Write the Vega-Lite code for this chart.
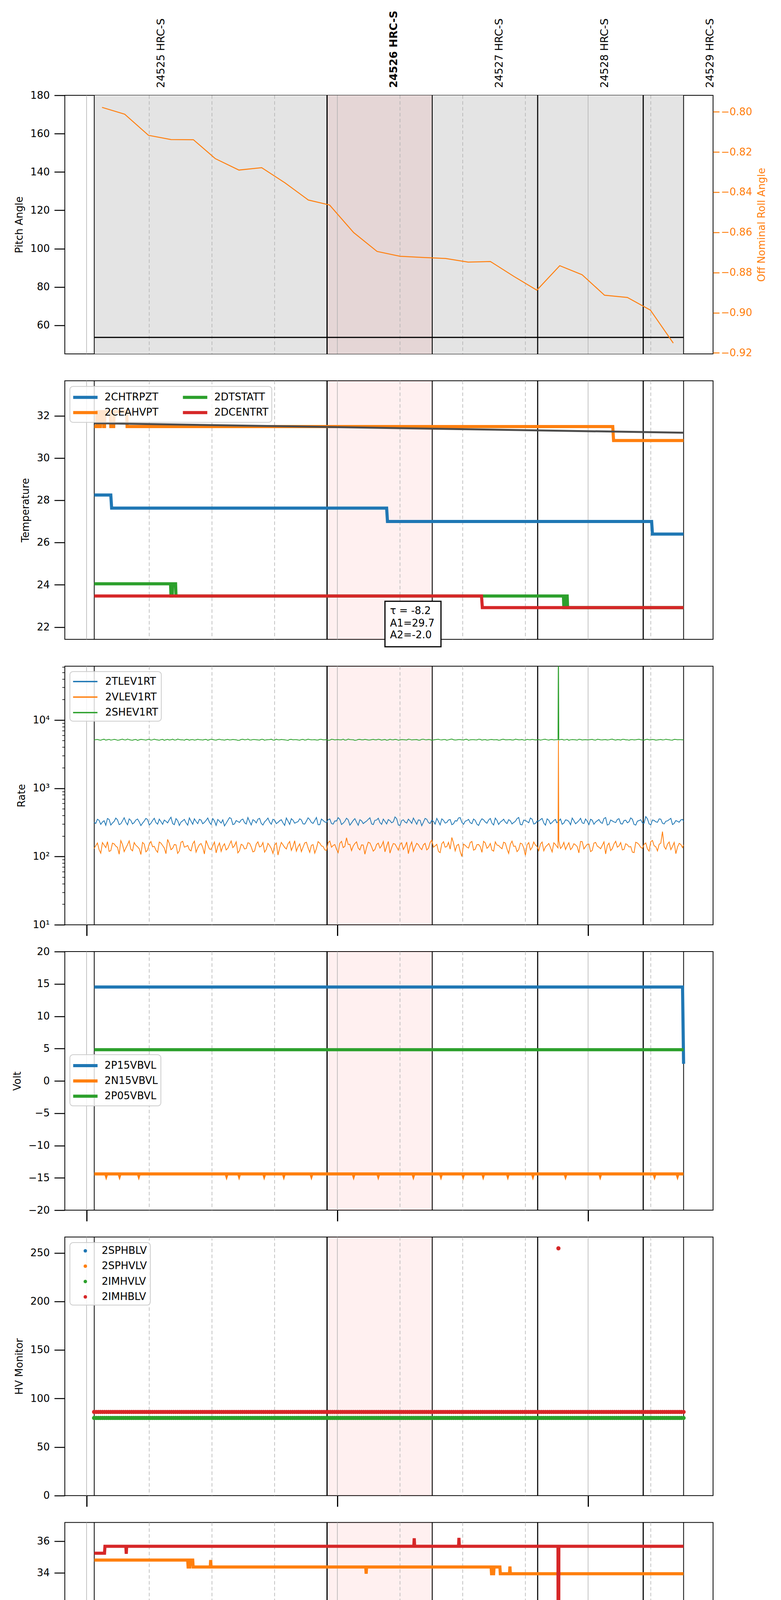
{
"$schema": "https://vega.github.io/schema/vega-lite/v6.json",
"padding": {"left": 30, "top": 26, "right": 0, "bottom": 0},
"bounds": "flush",
"spacing": 68.7,
"datasets": {
 "obs": [
  {"obsid": "24525 HRC-S", "start": 1.84, "stop": 57.5, "lab": 17.9, "cur": false},
  {"obsid": "24526 HRC-S", "start": 57.59, "stop": 82.71, "lab": 73.6, "cur": true},
  {"obsid": "24527 HRC-S", "start": 82.71, "stop": 107.9, "lab": 98.8, "cur": false},
  {"obsid": "24528 HRC-S", "start": 107.97, "stop": 133.15, "lab": 124.0, "cur": false},
  {"obsid": "24529 HRC-S", "start": 133.23, "stop": 142.85, "lab": 149.2, "cur": false}
 ],
 "major": [{"m": 0}, {"m": 60}, {"m": 120}],
 "minor": [{"m": 15}, {"m": 30}, {"m": 45}, {"m": 75}, {"m": 90}, {"m": 105}, {"m": 135}],
 "pitch": [{"m": 1.84, "p": 53.7}, {"m": 142.85, "p": 53.7}],
 "roll": [
  {"m":3.71,"r":-0.7978},{"m":9.12,"r":-0.8012},{"m":14.82,"r":-0.8117},{"m":20.19,"r":-0.8138},{"m":25.56,"r":-0.8139},{"m":30.79,"r":-0.8233},{"m":36.46,"r":-0.829},{"m":41.9,"r":-0.8278},{"m":47.5,"r":-0.8354},{"m":53.06,"r":-0.8439},{"m":58.15,"r":-0.8464},{"m":63.9,"r":-0.8601},{"m":69.51,"r":-0.8695},{"m":74.96,"r":-0.8719},{"m":80.34,"r":-0.8725},{"m":85.94,"r":-0.873},{"m":91.3,"r":-0.8748},{"m":96.63,"r":-0.8745},{"m":102.23,"r":-0.8819},{"m":107.74,"r":-0.8888},{"m":113.22,"r":-0.8766},{"m":118.57,"r":-0.8811},{"m":123.94,"r":-0.8913},{"m":129.4,"r":-0.8924},{"m":134.91,"r":-0.8987},{"m":140.38,"r":-0.9151}
 ],
 "temp": [
  {"s":"2CHTRPZT","m":1.84,"v":28.25},{"s":"2CHTRPZT","m":5.8,"v":28.25},{"s":"2CHTRPZT","m":6.0,"v":27.63},{"s":"2CHTRPZT","m":71.8,"v":27.63},{"s":"2CHTRPZT","m":72.0,"v":27.0},{"s":"2CHTRPZT","m":135.2,"v":27.0},{"s":"2CHTRPZT","m":135.4,"v":26.4},{"s":"2CHTRPZT","m":142.85,"v":26.4},
  {"s":"2CEAHVPT","m":1.84,"v":31.49},{"s":"2CEAHVPT","m":2.4,"v":31.49},{"s":"2CEAHVPT","m":2.5,"v":32.2},{"s":"2CEAHVPT","m":3.0,"v":32.2},{"s":"2CEAHVPT","m":3.1,"v":31.49},{"s":"2CEAHVPT","m":3.3,"v":31.49},{"s":"2CEAHVPT","m":3.4,"v":32.2},{"s":"2CEAHVPT","m":4.0,"v":32.2},{"s":"2CEAHVPT","m":4.1,"v":31.49},{"s":"2CEAHVPT","m":4.3,"v":31.49},{"s":"2CEAHVPT","m":4.4,"v":32.2},{"s":"2CEAHVPT","m":5.7,"v":32.2},{"s":"2CEAHVPT","m":5.8,"v":31.49},{"s":"2CEAHVPT","m":6.5,"v":31.49},{"s":"2CEAHVPT","m":6.6,"v":32.2},{"s":"2CEAHVPT","m":9.6,"v":32.2},{"s":"2CEAHVPT","m":9.7,"v":31.49},{"s":"2CEAHVPT","m":125.9,"v":31.49},{"s":"2CEAHVPT","m":126.1,"v":30.83},{"s":"2CEAHVPT","m":142.85,"v":30.83},
  {"s":"2DTSTATT","m":1.84,"v":24.05},{"s":"2DTSTATT","m":20.1,"v":24.05},{"s":"2DTSTATT","m":20.2,"v":23.47},{"s":"2DTSTATT","m":20.5,"v":23.47},{"s":"2DTSTATT","m":20.6,"v":24.05},{"s":"2DTSTATT","m":21.3,"v":24.05},{"s":"2DTSTATT","m":21.4,"v":23.47},{"s":"2DTSTATT","m":114.1,"v":23.47},{"s":"2DTSTATT","m":114.2,"v":22.92},{"s":"2DTSTATT","m":114.5,"v":22.92},{"s":"2DTSTATT","m":114.6,"v":23.47},{"s":"2DTSTATT","m":115.0,"v":23.47},{"s":"2DTSTATT","m":115.1,"v":22.92},{"s":"2DTSTATT","m":142.85,"v":22.92},
  {"s":"2DCENTRT","m":1.84,"v":23.47},{"s":"2DCENTRT","m":94.5,"v":23.47},{"s":"2DCENTRT","m":94.7,"v":22.92},{"s":"2DCENTRT","m":142.85,"v":22.92}
 ],
 "fit": [{"m": 1.84, "v": 31.65}, {"m": 142.85, "v": 31.2}],
 "fitbox": [{"m": 71.4, "m2": 84.8, "v": 23.22, "v2": 21.07}],
 "fittext": [{"m": 72.6, "v": 22.77, "t": "τ = -8.2"}, {"m": 72.6, "v": 22.18, "t": "A1=29.7"}, {"m": 72.6, "v": 21.61, "t": "A2=-2.0"}],
 "rate": [
  {"m":1.8,"T":318,"V":131,"S":5110},{"m":2.2,"T":305,"V":144,"S":5150},{"m":2.6,"T":352,"V":158,"S":5190},{"m":3.0,"T":339,"V":126,"S":5100},{"m":3.4,"T":296,"V":112,"S":5060},{"m":3.8,"T":321,"V":160,"S":5180},{"m":4.2,"T":334,"V":147,"S":5230},{"m":4.6,"T":287,"V":135,"S":5070},{"m":5.0,"T":361,"V":165,"S":5140},{"m":5.4,"T":349,"V":119,"S":5210},
  {"m":5.8,"T":289,"V":122,"S":5080},{"m":6.2,"T":310,"V":157,"S":5130},{"m":6.6,"T":327,"V":153,"S":5200},{"m":7.0,"T":366,"V":142,"S":5160},{"m":7.4,"T":345,"V":136,"S":5050},{"m":7.8,"T":293,"V":108,"S":5090},{"m":8.2,"T":302,"V":171,"S":5170},{"m":8.6,"T":332,"V":150,"S":5240},{"m":9.0,"T":370,"V":118,"S":5120},{"m":9.4,"T":319,"V":133,"S":5110},
  {"m":9.8,"T":291,"V":149,"S":5260},{"m":10.2,"T":356,"V":169,"S":5150},{"m":10.6,"T":338,"V":128,"S":5090},{"m":11.0,"T":300,"V":121,"S":5060},{"m":11.4,"T":314,"V":160,"S":5150},{"m":11.8,"T":343,"V":146,"S":5190},{"m":12.2,"T":355,"V":139,"S":5030},{"m":12.6,"T":322,"V":130,"S":5120},{"m":13.0,"T":284,"V":107,"S":5210},{"m":13.4,"T":309,"V":161,"S":5170},
  {"m":13.8,"T":331,"V":152,"S":5130},{"m":14.2,"T":362,"V":117,"S":5080},{"m":14.6,"T":348,"V":124,"S":5180},{"m":15.0,"T":290,"V":152,"S":5220},{"m":15.4,"T":307,"V":166,"S":5070},{"m":15.8,"T":337,"V":139,"S":5130},{"m":16.2,"T":363,"V":141,"S":5240},{"m":16.6,"T":315,"V":124,"S":5160},{"m":17.0,"T":298,"V":115,"S":5110},{"m":17.4,"T":353,"V":163,"S":5050},
  {"m":17.8,"T":325,"V":157,"S":5160},{"m":18.2,"T":296,"V":145,"S":5200},{"m":18.6,"T":342,"V":133,"S":5040},{"m":19.0,"T":328,"V":110,"S":5140},{"m":19.4,"T":311,"V":178,"S":5200},{"m":19.8,"T":347,"V":155,"S":5090},{"m":20.2,"T":376,"V":126,"S":5140},{"m":20.6,"T":304,"V":132,"S":5230},{"m":21.0,"T":293,"V":150,"S":5090},{"m":21.4,"T":359,"V":148,"S":5110},
  {"m":21.8,"T":336,"V":111,"S":5250},{"m":22.2,"T":285,"V":121,"S":5170},{"m":22.6,"T":319,"V":162,"S":5120},{"m":23.0,"T":333,"V":167,"S":5130},{"m":23.4,"T":350,"V":137,"S":5060},{"m":23.8,"T":312,"V":140,"S":5200},{"m":24.2,"T":288,"V":145,"S":5190},{"m":24.6,"T":368,"V":126,"S":5060},{"m":25.0,"T":329,"V":121,"S":5150},{"m":25.4,"T":297,"V":153,"S":5180},
  {"m":25.8,"T":357,"V":168,"S":5080},{"m":26.2,"T":326,"V":116,"S":5120},{"m":26.6,"T":303,"V":134,"S":5220},{"m":27.0,"T":351,"V":149,"S":5150},{"m":27.4,"T":341,"V":155,"S":5130},{"m":27.8,"T":302,"V":136,"S":5090},{"m":28.2,"T":316,"V":109,"S":5170},{"m":28.6,"T":339,"V":172,"S":5210},{"m":29.0,"T":367,"V":148,"S":5050},{"m":29.4,"T":318,"V":129,"S":5140},
  {"m":29.8,"T":295,"V":127,"S":5230},{"m":30.2,"T":360,"V":144,"S":5170},{"m":30.6,"T":333,"V":163,"S":5100},{"m":31.0,"T":286,"V":113,"S":5080},{"m":31.4,"T":349,"V":140,"S":5180},{"m":31.8,"T":330,"V":158,"S":5230},{"m":32.2,"T":309,"V":119,"S":5140},{"m":32.6,"T":345,"V":141,"S":5120},{"m":33.0,"T":281,"V":154,"S":5070},{"m":33.4,"T":307,"V":125,"S":5160},
  {"m":33.8,"T":338,"V":132,"S":5210},{"m":34.2,"T":371,"V":150,"S":5100},{"m":34.6,"T":360,"V":169,"S":5120},{"m":35.0,"T":294,"V":135,"S":5190},{"m":35.4,"T":300,"V":144,"S":5160},{"m":35.8,"T":336,"V":164,"S":5130},{"m":36.2,"T":326,"V":113,"S":5040},{"m":36.6,"T":316,"V":122,"S":5060},{"m":37.0,"T":344,"V":151,"S":5190},{"m":37.4,"T":354,"V":146,"S":5220},
  {"m":37.8,"T":313,"V":129,"S":5130},{"m":38.2,"T":299,"V":131,"S":5150},{"m":38.6,"T":373,"V":159,"S":5250},{"m":39.0,"T":327,"V":156,"S":5110},{"m":39.4,"T":290,"V":138,"S":5090},{"m":39.8,"T":346,"V":117,"S":5180},{"m":40.2,"T":335,"V":120,"S":5170},{"m":40.6,"T":310,"V":152,"S":5140},{"m":41.0,"T":352,"V":164,"S":5110},{"m":41.4,"T":363,"V":138,"S":5070},
  {"m":41.8,"T":305,"V":142,"S":5200},{"m":42.2,"T":289,"V":160,"S":5200},{"m":42.6,"T":322,"V":116,"S":5060},{"m":43.0,"T":341,"V":127,"S":5130},{"m":43.4,"T":366,"V":156,"S":5150},{"m":43.8,"T":320,"V":145,"S":5170},{"m":44.2,"T":297,"V":131,"S":5230},{"m":44.6,"T":352,"V":111,"S":5090},{"m":45.0,"T":339,"V":147,"S":5080},{"m":45.4,"T":303,"V":158,"S":5240},
  {"m":45.8,"T":317,"V":105,"S":5140},{"m":46.2,"T":334,"V":134,"S":5120},{"m":46.6,"T":346,"V":161,"S":5190},{"m":47.0,"T":311,"V":148,"S":5160},{"m":47.4,"T":286,"V":136,"S":5120},{"m":47.8,"T":367,"V":129,"S":5080},{"m":48.2,"T":330,"V":153,"S":5030},{"m":48.6,"T":295,"V":166,"S":5190},{"m":49.0,"T":358,"V":123,"S":5210},{"m":49.4,"T":340,"V":141,"S":5130},
  {"m":49.8,"T":308,"V":170,"S":5150},{"m":50.2,"T":317,"V":120,"S":5150},{"m":50.6,"T":324,"V":139,"S":5100},{"m":51.0,"T":357,"V":153,"S":5060},{"m":51.4,"T":343,"V":118,"S":5180},{"m":51.8,"T":301,"V":137,"S":5210},{"m":52.2,"T":299,"V":158,"S":5070},{"m":52.6,"T":329,"V":162,"S":5120},{"m":53.0,"T":369,"V":134,"S":5240},{"m":53.4,"T":348,"V":115,"S":5170},
  {"m":53.8,"T":315,"V":146,"S":5130},{"m":54.2,"T":306,"V":149,"S":5140},{"m":54.6,"T":337,"V":112,"S":5160},{"m":55.0,"T":373,"V":131,"S":5090},{"m":55.4,"T":292,"V":165,"S":5090},{"m":55.8,"T":292,"V":157,"S":5200},{"m":56.2,"T":354,"V":143,"S":5200},{"m":56.6,"T":338,"V":140,"S":5130},{"m":57.0,"T":321,"V":125,"S":5140},{"m":57.4,"T":314,"V":123,"S":5160},
  {"m":57.8,"T":347,"V":160,"S":5060},{"m":58.2,"T":355,"V":168,"S":5070},{"m":58.6,"T":304,"V":137,"S":5220},{"m":59.0,"T":298,"V":145,"S":5190},{"m":59.4,"T":332,"V":150,"S":5110},{"m":59.8,"T":331,"V":128,"S":5150},{"m":60.2,"T":371,"V":114,"S":5170},{"m":60.6,"T":350,"V":156,"S":5120},{"m":61.0,"T":294,"V":167,"S":5130},{"m":61.4,"T":308,"V":135,"S":5230},
  {"m":61.8,"T":328,"V":141,"S":5080},{"m":62.2,"T":364,"V":188,"S":5100},{"m":62.6,"T":345,"V":150,"S":5250},{"m":63.0,"T":288,"V":151,"S":5170},{"m":63.4,"T":310,"V":122,"S":5150},{"m":63.8,"T":337,"V":142,"S":5140},{"m":64.2,"T":359,"V":155,"S":5040},{"m":64.6,"T":319,"V":164,"S":5080},{"m":65.0,"T":287,"V":133,"S":5190},{"m":65.4,"T":346,"V":125,"S":5210},
  {"m":65.8,"T":334,"V":148,"S":5120},{"m":66.2,"T":303,"V":147,"S":5130},{"m":66.6,"T":318,"V":108,"S":5210},{"m":67.0,"T":330,"V":136,"S":5160},{"m":67.4,"T":351,"V":162,"S":5090},{"m":67.8,"T":369,"V":158,"S":5090},{"m":68.2,"T":301,"V":139,"S":5160},{"m":68.6,"T":294,"V":120,"S":5200},{"m":69.0,"T":340,"V":127,"S":5130},{"m":69.4,"T":342,"V":150,"S":5120},
  {"m":69.8,"T":364,"V":157,"S":5230},{"m":70.2,"T":315,"V":133,"S":5170},{"m":70.6,"T":296,"V":144,"S":5070},{"m":71.0,"T":353,"V":166,"S":5140},{"m":71.4,"T":327,"V":117,"S":5180},{"m":71.8,"T":300,"V":141,"S":5060},{"m":72.2,"T":348,"V":166,"S":5110},{"m":72.6,"T":335,"V":112,"S":5220},{"m":73.0,"T":312,"V":135,"S":5140},{"m":73.4,"T":323,"V":155,"S":5130},
  {"m":73.8,"T":380,"V":152,"S":5200},{"m":74.2,"T":358,"V":138,"S":5180},{"m":74.6,"T":290,"V":124,"S":5050},{"m":75.0,"T":286,"V":150,"S":5110},{"m":75.4,"T":336,"V":159,"S":5170},{"m":75.8,"T":345,"V":127,"S":5150},{"m":76.2,"T":320,"V":140,"S":5120},{"m":76.6,"T":309,"V":163,"S":5090},{"m":77.0,"T":353,"V":110,"S":5240},{"m":77.4,"T":332,"V":142,"S":5200},
  {"m":77.8,"T":306,"V":163,"S":5100},{"m":78.2,"T":366,"V":119,"S":5140},{"m":78.6,"T":331,"V":138,"S":5160},{"m":79.0,"T":297,"V":156,"S":5170},{"m":79.4,"T":344,"V":149,"S":5080},{"m":79.8,"T":340,"V":134,"S":5080},{"m":80.2,"T":283,"V":126,"S":5210},{"m":80.6,"T":318,"V":148,"S":5230},{"m":81.0,"T":362,"V":156,"S":5140},{"m":81.4,"T":351,"V":125,"S":5120},
  {"m":81.8,"T":314,"V":132,"S":5190},{"m":82.2,"T":305,"V":160,"S":5160},{"m":82.6,"T":339,"V":173,"S":5060},{"m":83.0,"T":327,"V":137,"S":5100},{"m":83.4,"T":298,"V":143,"S":5150},{"m":83.8,"T":362,"V":151,"S":5190},{"m":84.2,"T":326,"V":119,"S":5220},{"m":84.6,"T":291,"V":114,"S":5130},{"m":85.0,"T":356,"V":154,"S":5110},{"m":85.4,"T":339,"V":165,"S":5170},
  {"m":85.8,"T":309,"V":137,"S":5170},{"m":86.2,"T":316,"V":140,"S":5060},{"m":86.6,"T":343,"V":161,"S":5130},{"m":87.0,"T":348,"V":128,"S":5210},{"m":87.4,"T":292,"V":190,"S":5250},{"m":87.8,"T":302,"V":158,"S":5140},{"m":88.2,"T":335,"V":121,"S":5090},{"m":88.6,"T":330,"V":145,"S":5120},{"m":89.0,"T":368,"V":151,"S":5180},{"m":89.4,"T":371,"V":118,"S":5180},
  {"m":89.8,"T":317,"V":100,"S":5120},{"m":90.2,"T":296,"V":152,"S":5090},{"m":90.6,"T":329,"V":146,"S":5200},{"m":91.0,"T":336,"V":137,"S":5230},{"m":91.4,"T":350,"V":133,"S":5040},{"m":91.8,"T":313,"V":160,"S":5130},{"m":92.2,"T":303,"V":166,"S":5160},{"m":92.6,"T":354,"V":124,"S":5160},{"m":93.0,"T":338,"V":128,"S":5130},{"m":93.4,"T":299,"V":149,"S":5110},
  {"m":93.8,"T":285,"V":150,"S":5230},{"m":94.2,"T":327,"V":139,"S":5200},{"m":94.6,"T":357,"V":115,"S":5080},{"m":95.0,"T":345,"V":167,"S":5140},{"m":95.4,"T":321,"V":158,"S":5170},{"m":95.8,"T":307,"V":132,"S":5070},{"m":96.2,"T":342,"V":139,"S":5110},{"m":96.6,"T":361,"V":155,"S":5180},{"m":97.0,"T":308,"V":124,"S":5190},{"m":97.4,"T":290,"V":120,"S":5120},
  {"m":97.8,"T":365,"V":164,"S":5140},{"m":98.2,"T":338,"V":147,"S":5160},{"m":98.6,"T":295,"V":145,"S":5060},{"m":99.0,"T":320,"V":136,"S":5090},{"m":99.4,"T":333,"V":130,"S":5210},{"m":99.8,"T":352,"V":162,"S":5220},{"m":100.2,"T":319,"V":157,"S":5120},{"m":100.6,"T":304,"V":129,"S":5130},{"m":101.0,"T":347,"V":111,"S":5160},{"m":101.4,"T":333,"V":151,"S":5170},
  {"m":101.8,"T":300,"V":168,"S":5090},{"m":102.2,"T":315,"V":141,"S":5100},{"m":102.6,"T":328,"V":142,"S":5240},{"m":103.0,"T":359,"V":118,"S":5190},{"m":103.4,"T":374,"V":126,"S":5130},{"m":103.8,"T":294,"V":157,"S":5140},{"m":104.2,"T":291,"V":153,"S":5180},{"m":104.6,"T":342,"V":134,"S":5080},{"m":105.0,"T":337,"V":104,"S":5070},{"m":105.4,"T":325,"V":148,"S":5210},
  {"m":105.8,"T":313,"V":160,"S":5150},{"m":106.2,"T":367,"V":125,"S":5120},{"m":106.6,"T":352,"V":136,"S":5200},{"m":107.0,"T":299,"V":163,"S":5160},{"m":107.4,"T":305,"V":147,"S":5110},{"m":107.8,"T":331,"V":140,"S":5140},{"m":108.2,"T":330,"V":122,"S":5170},{"m":108.6,"T":348,"V":152,"S":5070},{"m":109.0,"T":361,"V":163,"S":5130},{"m":109.4,"T":310,"V":121,"S":5200},
  {"m":109.8,"T":288,"V":138,"S":5220},{"m":110.2,"T":356,"V":146,"S":5130},{"m":110.6,"T":340,"V":155,"S":5080},{"m":111.0,"T":301,"V":135,"S":5170},{"m":111.4,"T":316,"V":117,"S":5190},{"m":111.8,"T":337,"V":159,"S":5110},{"m":112.2,"T":349,"V":150,"S":5140},{"m":112.5,"T":312,"V":141,"S":5150},{"m":112.8,"T":323,"V":134,"S":5160},{"m":112.9,"T":318,"V":5000,"S":200000},
  {"m":113.0,"T":331,"V":170,"S":5110},{"m":113.4,"T":355,"V":131,"S":5180},{"m":113.8,"T":297,"V":141,"S":5200},{"m":114.2,"T":309,"V":161,"S":5090},{"m":114.6,"T":344,"V":127,"S":5130},{"m":115.0,"T":341,"V":144,"S":5220},{"m":115.4,"T":326,"V":159,"S":5050},{"m":115.8,"T":292,"V":126,"S":5130},{"m":116.2,"T":366,"V":135,"S":5180},{"m":116.6,"T":335,"V":154,"S":5160},
  {"m":117.0,"T":302,"V":148,"S":5120},{"m":117.4,"T":318,"V":139,"S":5070},{"m":117.8,"T":335,"V":113,"S":5230},{"m":118.2,"T":363,"V":166,"S":5190},{"m":118.6,"T":311,"V":165,"S":5090},{"m":119.0,"T":304,"V":129,"S":5140},{"m":119.4,"T":355,"V":140,"S":5160},{"m":119.8,"T":328,"V":151,"S":5120},{"m":120.2,"T":293,"V":152,"S":5140},{"m":120.6,"T":351,"V":118,"S":5180},
  {"m":121.0,"T":339,"V":123,"S":5210},{"m":121.4,"T":297,"V":157,"S":5100},{"m":121.8,"T":320,"V":161,"S":5070},{"m":122.2,"T":334,"V":142,"S":5230},{"m":122.6,"T":348,"V":137,"S":5190},{"m":123.0,"T":316,"V":130,"S":5130},{"m":123.4,"T":306,"V":146,"S":5110},{"m":123.8,"T":360,"V":164,"S":5160},{"m":124.2,"T":372,"V":109,"S":5170},{"m":124.6,"T":289,"V":145,"S":5090},
  {"m":125.0,"T":296,"V":157,"S":5130},{"m":125.4,"T":343,"V":122,"S":5200},{"m":125.8,"T":332,"V":131,"S":5240},{"m":126.2,"T":321,"V":153,"S":5140},{"m":126.6,"T":314,"V":167,"S":5080},{"m":127.0,"T":349,"V":137,"S":5170},{"m":127.4,"T":358,"V":143,"S":5150},{"m":127.8,"T":303,"V":160,"S":5080},{"m":128.2,"T":299,"V":125,"S":5200},{"m":128.6,"T":336,"V":127,"S":5210},
  {"m":129.0,"T":341,"V":154,"S":5120},{"m":129.4,"T":312,"V":149,"S":5130},{"m":129.8,"T":324,"V":138,"S":5060},{"m":130.2,"T":368,"V":140,"S":5150},{"m":130.6,"T":351,"V":116,"S":5180},{"m":131.0,"T":295,"V":114,"S":5110},{"m":131.4,"T":289,"V":162,"S":5140},{"m":131.8,"T":330,"V":158,"S":5190},{"m":132.2,"T":336,"V":149,"S":5220},{"m":132.6,"T":346,"V":136,"S":5140},
  {"m":133.0,"T":310,"V":132,"S":5100},{"m":133.4,"T":308,"V":151,"S":5070},{"m":133.8,"T":384,"V":158,"S":5170},{"m":134.2,"T":357,"V":129,"S":5220},{"m":134.6,"T":301,"V":120,"S":5130},{"m":135.0,"T":291,"V":165,"S":5120},{"m":135.4,"T":343,"V":172,"S":5190},{"m":135.8,"T":338,"V":144,"S":5160},{"m":136.2,"T":322,"V":139,"S":5080},{"m":136.6,"T":317,"V":121,"S":5100},
  {"m":137.0,"T":356,"V":151,"S":5160},{"m":137.4,"T":352,"V":157,"S":5190},{"m":137.8,"T":307,"V":232,"S":5110},{"m":138.2,"T":300,"V":140,"S":5130},{"m":138.6,"T":329,"V":128,"S":5230},{"m":139.0,"T":333,"V":152,"S":5170},{"m":139.4,"T":347,"V":163,"S":5140},{"m":139.8,"T":362,"V":126,"S":5080},{"m":140.2,"T":294,"V":141,"S":5070},{"m":140.6,"T":306,"V":161,"S":5210},
  {"m":141.0,"T":337,"V":110,"S":5190},{"m":141.4,"T":328,"V":138,"S":5140},{"m":141.8,"T":318,"V":156,"S":5150},{"m":142.2,"T":344,"V":150,"S":5150},{"m":142.6,"T":350,"V":135,"S":5120},{"m":142.85,"T":327,"V":148,"S":5170}
 ],
 "volt": [
  {"s":"2P15VBVL","m":1.84,"v":14.52},{"s":"2P15VBVL","m":142.6,"v":14.52},{"s":"2P15VBVL","m":142.85,"v":2.64},
  {"s":"2N15VBVL","m":1.84,"v":-14.39},
  {"s":"2N15VBVL","m":4.6,"v":-14.39},{"s":"2N15VBVL","m":4.7,"v":-14.6},{"s":"2N15VBVL","m":4.8,"v":-14.39},
  {"s":"2N15VBVL","m":7.8,"v":-14.39},{"s":"2N15VBVL","m":7.9,"v":-14.6},{"s":"2N15VBVL","m":8.0,"v":-14.39},
  {"s":"2N15VBVL","m":12.4,"v":-14.39},{"s":"2N15VBVL","m":12.5,"v":-14.6},{"s":"2N15VBVL","m":12.6,"v":-14.39},
  {"s":"2N15VBVL","m":33.4,"v":-14.39},{"s":"2N15VBVL","m":33.5,"v":-14.6},{"s":"2N15VBVL","m":33.6,"v":-14.39},
  {"s":"2N15VBVL","m":36.4,"v":-14.39},{"s":"2N15VBVL","m":36.5,"v":-14.6},{"s":"2N15VBVL","m":36.6,"v":-14.39},
  {"s":"2N15VBVL","m":42.4,"v":-14.39},{"s":"2N15VBVL","m":42.5,"v":-14.6},{"s":"2N15VBVL","m":42.6,"v":-14.39},
  {"s":"2N15VBVL","m":47.1,"v":-14.39},{"s":"2N15VBVL","m":47.2,"v":-14.6},{"s":"2N15VBVL","m":47.3,"v":-14.39},
  {"s":"2N15VBVL","m":53.7,"v":-14.39},{"s":"2N15VBVL","m":53.8,"v":-14.6},{"s":"2N15VBVL","m":53.9,"v":-14.39},
  {"s":"2N15VBVL","m":63.8,"v":-14.39},{"s":"2N15VBVL","m":63.9,"v":-14.6},{"s":"2N15VBVL","m":64.0,"v":-14.39},
  {"s":"2N15VBVL","m":69.7,"v":-14.39},{"s":"2N15VBVL","m":69.8,"v":-14.6},{"s":"2N15VBVL","m":69.9,"v":-14.39},
  {"s":"2N15VBVL","m":78.1,"v":-14.39},{"s":"2N15VBVL","m":78.2,"v":-14.6},{"s":"2N15VBVL","m":78.3,"v":-14.39},
  {"s":"2N15VBVL","m":84.7,"v":-14.39},{"s":"2N15VBVL","m":84.8,"v":-14.6},{"s":"2N15VBVL","m":84.9,"v":-14.39},
  {"s":"2N15VBVL","m":90.0,"v":-14.39},{"s":"2N15VBVL","m":90.1,"v":-14.6},{"s":"2N15VBVL","m":90.2,"v":-14.39},
  {"s":"2N15VBVL","m":94.8,"v":-14.39},{"s":"2N15VBVL","m":94.9,"v":-14.6},{"s":"2N15VBVL","m":95.0,"v":-14.39},
  {"s":"2N15VBVL","m":100.7,"v":-14.39},{"s":"2N15VBVL","m":100.8,"v":-14.6},{"s":"2N15VBVL","m":100.9,"v":-14.39},
  {"s":"2N15VBVL","m":106.7,"v":-14.39},{"s":"2N15VBVL","m":106.8,"v":-14.6},{"s":"2N15VBVL","m":106.9,"v":-14.39},
  {"s":"2N15VBVL","m":114.5,"v":-14.39},{"s":"2N15VBVL","m":114.6,"v":-14.6},{"s":"2N15VBVL","m":114.7,"v":-14.39},
  {"s":"2N15VBVL","m":122.8,"v":-14.39},{"s":"2N15VBVL","m":122.9,"v":-14.6},{"s":"2N15VBVL","m":123.0,"v":-14.39},
  {"s":"2N15VBVL","m":135.8,"v":-14.39},{"s":"2N15VBVL","m":135.9,"v":-14.6},{"s":"2N15VBVL","m":136.0,"v":-14.39},
  {"s":"2N15VBVL","m":141.3,"v":-14.39},{"s":"2N15VBVL","m":141.4,"v":-14.6},{"s":"2N15VBVL","m":141.5,"v":-14.39},
  {"s":"2N15VBVL","m":142.85,"v":-14.39},
  {"s":"2P05VBVL","m":1.84,"v":4.83},{"s":"2P05VBVL","m":142.85,"v":4.83}
 ],
 "hv": [
  {"m":1.8,"g":80,"r":86.2},{"m":2.3,"g":80,"r":86.2},{"m":2.8,"g":80,"r":86.2},{"m":3.3,"g":80,"r":86.2},{"m":3.8,"g":80,"r":86.2},{"m":4.3,"g":80,"r":86.2},{"m":4.8,"g":80,"r":86.2},{"m":5.3,"g":80,"r":86.2},{"m":5.8,"g":80,"r":86.2},{"m":6.3,"g":80,"r":86.2},
  {"m":6.8,"g":80,"r":86.2},{"m":7.3,"g":80,"r":86.2},{"m":7.8,"g":80,"r":86.2},{"m":8.3,"g":80,"r":86.2},{"m":8.8,"g":80,"r":86.2},{"m":9.3,"g":80,"r":86.2},{"m":9.8,"g":80,"r":86.2},{"m":10.3,"g":80,"r":86.2},{"m":10.8,"g":80,"r":86.2},{"m":11.3,"g":80,"r":86.2},
  {"m":11.8,"g":80,"r":86.2},{"m":12.3,"g":80,"r":86.2},{"m":12.8,"g":80,"r":86.2},{"m":13.3,"g":80,"r":86.2},{"m":13.8,"g":80,"r":86.2},{"m":14.3,"g":80,"r":86.2},{"m":14.8,"g":80,"r":86.2},{"m":15.3,"g":80,"r":86.2},{"m":15.8,"g":80,"r":86.2},{"m":16.3,"g":80,"r":86.2},
  {"m":16.8,"g":80,"r":86.2},{"m":17.3,"g":80,"r":86.2},{"m":17.8,"g":80,"r":86.2},{"m":18.3,"g":80,"r":86.2},{"m":18.8,"g":80,"r":86.2},{"m":19.3,"g":80,"r":86.2},{"m":19.8,"g":80,"r":86.2},{"m":20.3,"g":80,"r":86.2},{"m":20.8,"g":80,"r":86.2},{"m":21.3,"g":80,"r":86.2},
  {"m":21.8,"g":80,"r":86.2},{"m":22.3,"g":80,"r":86.2},{"m":22.8,"g":80,"r":86.2},{"m":23.3,"g":80,"r":86.2},{"m":23.8,"g":80,"r":86.2},{"m":24.3,"g":80,"r":86.2},{"m":24.8,"g":80,"r":86.2},{"m":25.3,"g":80,"r":86.2},{"m":25.8,"g":80,"r":86.2},{"m":26.3,"g":80,"r":86.2},
  {"m":26.8,"g":80,"r":86.2},{"m":27.3,"g":80,"r":86.2},{"m":27.8,"g":80,"r":86.2},{"m":28.3,"g":80,"r":86.2},{"m":28.8,"g":80,"r":86.2},{"m":29.3,"g":80,"r":86.2},{"m":29.8,"g":80,"r":86.2},{"m":30.3,"g":80,"r":86.2},{"m":30.8,"g":80,"r":86.2},{"m":31.3,"g":80,"r":86.2},
  {"m":31.8,"g":80,"r":86.2},{"m":32.3,"g":80,"r":86.2},{"m":32.8,"g":80,"r":86.2},{"m":33.3,"g":80,"r":86.2},{"m":33.8,"g":80,"r":86.2},{"m":34.3,"g":80,"r":86.2},{"m":34.8,"g":80,"r":86.2},{"m":35.3,"g":80,"r":86.2},{"m":35.8,"g":80,"r":86.2},{"m":36.3,"g":80,"r":86.2},
  {"m":36.8,"g":80,"r":86.2},{"m":37.3,"g":80,"r":86.2},{"m":37.8,"g":80,"r":86.2},{"m":38.3,"g":80,"r":86.2},{"m":38.8,"g":80,"r":86.2},{"m":39.3,"g":80,"r":86.2},{"m":39.8,"g":80,"r":86.2},{"m":40.3,"g":80,"r":86.2},{"m":40.8,"g":80,"r":86.2},{"m":41.3,"g":80,"r":86.2},
  {"m":41.8,"g":80,"r":86.2},{"m":42.3,"g":80,"r":86.2},{"m":42.8,"g":80,"r":86.2},{"m":43.3,"g":80,"r":86.2},{"m":43.8,"g":80,"r":86.2},{"m":44.3,"g":80,"r":86.2},{"m":44.8,"g":80,"r":86.2},{"m":45.3,"g":80,"r":86.2},{"m":45.8,"g":80,"r":86.2},{"m":46.3,"g":80,"r":86.2},
  {"m":46.8,"g":80,"r":86.2},{"m":47.3,"g":80,"r":86.2},{"m":47.8,"g":80,"r":86.2},{"m":48.3,"g":80,"r":86.2},{"m":48.8,"g":80,"r":86.2},{"m":49.3,"g":80,"r":86.2},{"m":49.8,"g":80,"r":86.2},{"m":50.3,"g":80,"r":86.2},{"m":50.8,"g":80,"r":86.2},{"m":51.3,"g":80,"r":86.2},
  {"m":51.8,"g":80,"r":86.2},{"m":52.3,"g":80,"r":86.2},{"m":52.8,"g":80,"r":86.2},{"m":53.3,"g":80,"r":86.2},{"m":53.8,"g":80,"r":86.2},{"m":54.3,"g":80,"r":86.2},{"m":54.8,"g":80,"r":86.2},{"m":55.3,"g":80,"r":86.2},{"m":55.8,"g":80,"r":86.2},{"m":56.3,"g":80,"r":86.2},
  {"m":56.8,"g":80,"r":86.2},{"m":57.3,"g":80,"r":86.2},{"m":57.8,"g":80,"r":86.2},{"m":58.3,"g":80,"r":86.2},{"m":58.8,"g":80,"r":86.2},{"m":59.3,"g":80,"r":86.2},{"m":59.8,"g":80,"r":86.2},{"m":60.3,"g":80,"r":86.2},{"m":60.8,"g":80,"r":86.2},{"m":61.3,"g":80,"r":86.2},
  {"m":61.8,"g":80,"r":86.2},{"m":62.3,"g":80,"r":86.2},{"m":62.8,"g":80,"r":86.2},{"m":63.3,"g":80,"r":86.2},{"m":63.8,"g":80,"r":86.2},{"m":64.3,"g":80,"r":86.2},{"m":64.8,"g":80,"r":86.2},{"m":65.3,"g":80,"r":86.2},{"m":65.8,"g":80,"r":86.2},{"m":66.3,"g":80,"r":86.2},
  {"m":66.8,"g":80,"r":86.2},{"m":67.3,"g":80,"r":86.2},{"m":67.8,"g":80,"r":86.2},{"m":68.3,"g":80,"r":86.2},{"m":68.8,"g":80,"r":86.2},{"m":69.3,"g":80,"r":86.2},{"m":69.8,"g":80,"r":86.2},{"m":70.3,"g":80,"r":86.2},{"m":70.8,"g":80,"r":86.2},{"m":71.3,"g":80,"r":86.2},
  {"m":71.8,"g":80,"r":86.2},{"m":72.3,"g":80,"r":86.2},{"m":72.8,"g":80,"r":86.2},{"m":73.3,"g":80,"r":86.2},{"m":73.8,"g":80,"r":86.2},{"m":74.3,"g":80,"r":86.2},{"m":74.8,"g":80,"r":86.2},{"m":75.3,"g":80,"r":86.2},{"m":75.8,"g":80,"r":86.2},{"m":76.3,"g":80,"r":86.2},
  {"m":76.8,"g":80,"r":86.2},{"m":77.3,"g":80,"r":86.2},{"m":77.8,"g":80,"r":86.2},{"m":78.3,"g":80,"r":86.2},{"m":78.8,"g":80,"r":86.2},{"m":79.3,"g":80,"r":86.2},{"m":79.8,"g":80,"r":86.2},{"m":80.3,"g":80,"r":86.2},{"m":80.8,"g":80,"r":86.2},{"m":81.3,"g":80,"r":86.2},
  {"m":81.8,"g":80,"r":86.2},{"m":82.3,"g":80,"r":86.2},{"m":82.8,"g":80,"r":86.2},{"m":83.3,"g":80,"r":86.2},{"m":83.8,"g":80,"r":86.2},{"m":84.3,"g":80,"r":86.2},{"m":84.8,"g":80,"r":86.2},{"m":85.3,"g":80,"r":86.2},{"m":85.8,"g":80,"r":86.2},{"m":86.3,"g":80,"r":86.2},
  {"m":86.8,"g":80,"r":86.2},{"m":87.3,"g":80,"r":86.2},{"m":87.8,"g":80,"r":86.2},{"m":88.3,"g":80,"r":86.2},{"m":88.8,"g":80,"r":86.2},{"m":89.3,"g":80,"r":86.2},{"m":89.8,"g":80,"r":86.2},{"m":90.3,"g":80,"r":86.2},{"m":90.8,"g":80,"r":86.2},{"m":91.3,"g":80,"r":86.2},
  {"m":91.8,"g":80,"r":86.2},{"m":92.3,"g":80,"r":86.2},{"m":92.8,"g":80,"r":86.2},{"m":93.3,"g":80,"r":86.2},{"m":93.8,"g":80,"r":86.2},{"m":94.3,"g":80,"r":86.2},{"m":94.8,"g":80,"r":86.2},{"m":95.3,"g":80,"r":86.2},{"m":95.8,"g":80,"r":86.2},{"m":96.3,"g":80,"r":86.2},
  {"m":96.8,"g":80,"r":86.2},{"m":97.3,"g":80,"r":86.2},{"m":97.8,"g":80,"r":86.2},{"m":98.3,"g":80,"r":86.2},{"m":98.8,"g":80,"r":86.2},{"m":99.3,"g":80,"r":86.2},{"m":99.8,"g":80,"r":86.2},{"m":100.3,"g":80,"r":86.2},{"m":100.8,"g":80,"r":86.2},{"m":101.3,"g":80,"r":86.2},
  {"m":101.8,"g":80,"r":86.2},{"m":102.3,"g":80,"r":86.2},{"m":102.8,"g":80,"r":86.2},{"m":103.3,"g":80,"r":86.2},{"m":103.8,"g":80,"r":86.2},{"m":104.3,"g":80,"r":86.2},{"m":104.8,"g":80,"r":86.2},{"m":105.3,"g":80,"r":86.2},{"m":105.8,"g":80,"r":86.2},{"m":106.3,"g":80,"r":86.2},
  {"m":106.8,"g":80,"r":86.2},{"m":107.3,"g":80,"r":86.2},{"m":107.8,"g":80,"r":86.2},{"m":108.3,"g":80,"r":86.2},{"m":108.8,"g":80,"r":86.2},{"m":109.3,"g":80,"r":86.2},{"m":109.8,"g":80,"r":86.2},{"m":110.3,"g":80,"r":86.2},{"m":110.8,"g":80,"r":86.2},{"m":111.3,"g":80,"r":86.2},
  {"m":111.8,"g":80,"r":86.2},{"m":112.3,"g":80,"r":86.2},{"m":112.8,"g":80,"r":86.2},{"m":112.9,"r":254.7},{"m":113.3,"g":80,"r":86.2},{"m":113.8,"g":80,"r":86.2},{"m":114.3,"g":80,"r":86.2},{"m":114.8,"g":80,"r":86.2},{"m":115.3,"g":80,"r":86.2},{"m":115.8,"g":80,"r":86.2},{"m":116.3,"g":80,"r":86.2},
  {"m":116.8,"g":80,"r":86.2},{"m":117.3,"g":80,"r":86.2},{"m":117.8,"g":80,"r":86.2},{"m":118.3,"g":80,"r":86.2},{"m":118.8,"g":80,"r":86.2},{"m":119.3,"g":80,"r":86.2},{"m":119.8,"g":80,"r":86.2},{"m":120.3,"g":80,"r":86.2},{"m":120.8,"g":80,"r":86.2},{"m":121.3,"g":80,"r":86.2},
  {"m":121.8,"g":80,"r":86.2},{"m":122.3,"g":80,"r":86.2},{"m":122.8,"g":80,"r":86.2},{"m":123.3,"g":80,"r":86.2},{"m":123.8,"g":80,"r":86.2},{"m":124.3,"g":80,"r":86.2},{"m":124.8,"g":80,"r":86.2},{"m":125.3,"g":80,"r":86.2},{"m":125.8,"g":80,"r":86.2},{"m":126.3,"g":80,"r":86.2},
  {"m":126.8,"g":80,"r":86.2},{"m":127.3,"g":80,"r":86.2},{"m":127.8,"g":80,"r":86.2},{"m":128.3,"g":80,"r":86.2},{"m":128.8,"g":80,"r":86.2},{"m":129.3,"g":80,"r":86.2},{"m":129.8,"g":80,"r":86.2},{"m":130.3,"g":80,"r":86.2},{"m":130.8,"g":80,"r":86.2},{"m":131.3,"g":80,"r":86.2},
  {"m":131.8,"g":80,"r":86.2},{"m":132.3,"g":80,"r":86.2},{"m":132.8,"g":80,"r":86.2},{"m":133.3,"g":80,"r":86.2},{"m":133.8,"g":80,"r":86.2},{"m":134.3,"g":80,"r":86.2},{"m":134.8,"g":80,"r":86.2},{"m":135.3,"g":80,"r":86.2},{"m":135.8,"g":80,"r":86.2},{"m":136.3,"g":80,"r":86.2},
  {"m":136.8,"g":80,"r":86.2},{"m":137.3,"g":80,"r":86.2},{"m":137.8,"g":80,"r":86.2},{"m":138.3,"g":80,"r":86.2},{"m":138.8,"g":80,"r":86.2},{"m":139.3,"g":80,"r":86.2},{"m":139.8,"g":80,"r":86.2},{"m":140.3,"g":80,"r":86.2},{"m":140.8,"g":80,"r":86.2},{"m":141.3,"g":80,"r":86.2},
  {"m":141.8,"g":80,"r":86.2},{"m":142.3,"g":80,"r":86.2},{"m":142.85,"g":80,"r":86.2}
 ],
 "det": [
  {"s":"2SPINATM","m":1.84,"v":22.41},{"s":"2SPINATM","m":108.2,"v":22.41},{"s":"2SPINATM","m":108.3,"v":21.7},{"s":"2SPINATM","m":108.5,"v":21.7},{"s":"2SPINATM","m":108.6,"v":22.41},{"s":"2SPINATM","m":110.2,"v":22.41},{"s":"2SPINATM","m":110.3,"v":21.7},{"s":"2SPINATM","m":110.8,"v":21.7},{"s":"2SPINATM","m":110.9,"v":22.41},{"s":"2SPINATM","m":111.3,"v":22.41},{"s":"2SPINATM","m":111.4,"v":21.7},{"s":"2SPINATM","m":112.0,"v":21.7},{"s":"2SPINATM","m":112.1,"v":22.41},{"s":"2SPINATM","m":112.6,"v":22.41},{"s":"2SPINATM","m":112.7,"v":21.7},{"s":"2SPINATM","m":113.3,"v":21.7},{"s":"2SPINATM","m":113.4,"v":22.41},{"s":"2SPINATM","m":113.8,"v":22.41},{"s":"2SPINATM","m":113.9,"v":21.7},{"s":"2SPINATM","m":114.5,"v":21.7},{"s":"2SPINATM","m":114.6,"v":22.41},{"s":"2SPINATM","m":115.0,"v":22.41},{"s":"2SPINATM","m":115.1,"v":21.7},{"s":"2SPINATM","m":115.6,"v":21.7},{"s":"2SPINATM","m":115.7,"v":22.41},{"s":"2SPINATM","m":116.1,"v":22.41},{"s":"2SPINATM","m":116.2,"v":21.7},{"s":"2SPINATM","m":142.85,"v":21.7},
  {"s":"2SPHVATM","m":1.84,"v":34.81},{"s":"2SPHVATM","m":24.2,"v":34.81},{"s":"2SPHVATM","m":24.3,"v":34.37},{"s":"2SPHVATM","m":24.7,"v":34.37},{"s":"2SPHVATM","m":24.8,"v":34.81},{"s":"2SPHVATM","m":25.4,"v":34.81},{"s":"2SPHVATM","m":25.5,"v":34.37},{"s":"2SPHVATM","m":29.6,"v":34.37},{"s":"2SPHVATM","m":29.7,"v":34.81},{"s":"2SPHVATM","m":29.8,"v":34.37},{"s":"2SPHVATM","m":66.8,"v":34.37},{"s":"2SPHVATM","m":66.9,"v":33.95},{"s":"2SPHVATM","m":67.0,"v":34.37},{"s":"2SPHVATM","m":96.8,"v":34.37},{"s":"2SPHVATM","m":96.9,"v":33.95},{"s":"2SPHVATM","m":97.4,"v":33.95},{"s":"2SPHVATM","m":97.5,"v":34.37},{"s":"2SPHVATM","m":98.9,"v":34.37},{"s":"2SPHVATM","m":99.0,"v":33.95},{"s":"2SPHVATM","m":101.2,"v":33.95},{"s":"2SPHVATM","m":101.3,"v":34.4},{"s":"2SPHVATM","m":101.4,"v":33.95},{"s":"2SPHVATM","m":142.85,"v":33.95},
  {"s":"2IMINATM","m":1.84,"v":23.13},{"s":"2IMINATM","m":142.85,"v":23.13},
  {"s":"2IMHVATM","m":1.84,"v":35.24},{"s":"2IMHVATM","m":4.3,"v":35.24},{"s":"2IMHVATM","m":4.4,"v":35.67},{"s":"2IMHVATM","m":9.4,"v":35.67},{"s":"2IMHVATM","m":9.5,"v":35.2},{"s":"2IMHVATM","m":9.6,"v":35.67},{"s":"2IMHVATM","m":78.3,"v":35.67},{"s":"2IMHVATM","m":78.4,"v":36.18},{"s":"2IMHVATM","m":78.5,"v":35.67},{"s":"2IMHVATM","m":89.0,"v":35.67},{"s":"2IMHVATM","m":89.1,"v":36.2},{"s":"2IMHVATM","m":89.2,"v":35.67},{"s":"2IMHVATM","m":112.8,"v":35.67},{"s":"2IMHVATM","m":112.9,"v":15},{"s":"2IMHVATM","m":113.0,"v":35.67},{"s":"2IMHVATM","m":142.85,"v":35.67}
 ],
 "fea": [
  {"s":"2FHTRMZT","m":1.84,"v":25.8},{"s":"2FHTRMZT","m":46.3,"v":25.8},{"s":"2FHTRMZT","m":46.5,"v":25.21},{"s":"2FHTRMZT","m":96.9,"v":25.21},{"s":"2FHTRMZT","m":97.1,"v":24.64},{"s":"2FHTRMZT","m":142.85,"v":24.64},
  {"s":"2FRADPYT","m":1.84,"v":20.74},{"s":"2FRADPYT","m":5.4,"v":20.74},{"s":"2FRADPYT","m":5.6,"v":20.21},{"s":"2FRADPYT","m":43.0,"v":20.21},{"s":"2FRADPYT","m":43.2,"v":19.69},{"s":"2FRADPYT","m":86.1,"v":19.69},{"s":"2FRADPYT","m":86.3,"v":19.17},{"s":"2FRADPYT","m":133.0,"v":19.17},{"s":"2FRADPYT","m":133.2,"v":18.66},{"s":"2FRADPYT","m":142.85,"v":18.66},
  {"s":"2FEPRATM","m":1.84,"v":26.97},{"s":"2FEPRATM","m":82.2,"v":26.97},{"s":"2FEPRATM","m":82.3,"v":26.19},{"s":"2FEPRATM","m":82.6,"v":26.19},{"s":"2FEPRATM","m":82.7,"v":26.97},{"s":"2FEPRATM","m":83.2,"v":26.97},{"s":"2FEPRATM","m":83.3,"v":26.19},{"s":"2FEPRATM","m":112.8,"v":26.19},{"s":"2FEPRATM","m":112.9,"v":23.9},{"s":"2FEPRATM","m":113.0,"v":26.19},{"s":"2FEPRATM","m":142.85,"v":26.19},
  {"s":"2FE00ATM","m":1.84,"v":24.96},{"s":"2FE00ATM","m":9.6,"v":24.96},{"s":"2FE00ATM","m":9.7,"v":23.6},{"s":"2FE00ATM","m":9.8,"v":24.96},{"s":"2FE00ATM","m":36.3,"v":24.96},{"s":"2FE00ATM","m":36.4,"v":24.64},{"s":"2FE00ATM","m":36.8,"v":24.64},{"s":"2FE00ATM","m":36.9,"v":24.96},{"s":"2FE00ATM","m":37.3,"v":24.96},{"s":"2FE00ATM","m":37.4,"v":24.64},{"s":"2FE00ATM","m":39.4,"v":24.64},{"s":"2FE00ATM","m":39.5,"v":24.97},{"s":"2FE00ATM","m":39.6,"v":24.64},{"s":"2FE00ATM","m":40.8,"v":24.64},{"s":"2FE00ATM","m":40.9,"v":24.25},{"s":"2FE00ATM","m":41.0,"v":24.64},{"s":"2FE00ATM","m":66.3,"v":24.64},{"s":"2FE00ATM","m":66.4,"v":24.25},{"s":"2FE00ATM","m":66.5,"v":24.64},{"s":"2FE00ATM","m":73.2,"v":24.64},{"s":"2FE00ATM","m":73.3,"v":24.31},{"s":"2FE00ATM","m":73.7,"v":24.31},{"s":"2FE00ATM","m":73.8,"v":24.64},{"s":"2FE00ATM","m":74.3,"v":24.64},{"s":"2FE00ATM","m":74.4,"v":24.31},{"s":"2FE00ATM","m":78.7,"v":24.31},{"s":"2FE00ATM","m":78.8,"v":23.9},{"s":"2FE00ATM","m":78.9,"v":24.31},{"s":"2FE00ATM","m":98.3,"v":24.31},{"s":"2FE00ATM","m":98.4,"v":24.97},{"s":"2FE00ATM","m":98.5,"v":24.31},{"s":"2FE00ATM","m":100.5,"v":24.31},{"s":"2FE00ATM","m":100.6,"v":24.97},{"s":"2FE00ATM","m":100.7,"v":24.31},{"s":"2FE00ATM","m":104.8,"v":24.31},{"s":"2FE00ATM","m":104.9,"v":23.3},{"s":"2FE00ATM","m":105.0,"v":24.31},{"s":"2FE00ATM","m":111.2,"v":24.31},{"s":"2FE00ATM","m":111.3,"v":23.97},{"s":"2FE00ATM","m":111.7,"v":23.97},{"s":"2FE00ATM","m":111.8,"v":24.31},{"s":"2FE00ATM","m":112.3,"v":24.31},{"s":"2FE00ATM","m":112.4,"v":23.97},{"s":"2FE00ATM","m":112.8,"v":23.97},{"s":"2FE00ATM","m":112.9,"v":10},{"s":"2FE00ATM","m":113.0,"v":23.97},{"s":"2FE00ATM","m":114.0,"v":23.97},{"s":"2FE00ATM","m":114.1,"v":25.34},{"s":"2FE00ATM","m":114.2,"v":23.97},{"s":"2FE00ATM","m":115.4,"v":23.97},{"s":"2FE00ATM","m":115.5,"v":23.6},{"s":"2FE00ATM","m":115.6,"v":23.97},{"s":"2FE00ATM","m":124.3,"v":23.97},{"s":"2FE00ATM","m":124.4,"v":23.6},{"s":"2FE00ATM","m":124.5,"v":23.97},{"s":"2FE00ATM","m":126.5,"v":23.97},{"s":"2FE00ATM","m":126.6,"v":24.3},{"s":"2FE00ATM","m":126.7,"v":23.97},{"s":"2FE00ATM","m":128.9,"v":23.97},{"s":"2FE00ATM","m":129.0,"v":23.27},{"s":"2FE00ATM","m":129.1,"v":23.97},{"s":"2FE00ATM","m":137.2,"v":23.97},{"s":"2FE00ATM","m":137.3,"v":23.6},{"s":"2FE00ATM","m":137.4,"v":23.97},{"s":"2FE00ATM","m":141.4,"v":23.97},{"s":"2FE00ATM","m":141.5,"v":22.67},{"s":"2FE00ATM","m":141.6,"v":23.97},{"s":"2FE00ATM","m":142.85,"v":23.97}
 ]
},
"vconcat": [
 {
  "width": 1660, "height": 662,
  "layer": [
   {"layer": [
    {"data": {"name": "obs"}, "mark": {"type": "rect", "color": "#e4e4e4"}, "encoding": {"x": {"field": "start", "type": "quantitative", "scale": {"domain": [-5.2, 149.9], "nice": false, "zero": false}, "axis": null}, "x2": {"field": "stop"}}},
    {"data": {"name": "obs"}, "transform": [{"filter": "datum.cur"}], "mark": {"type": "rect", "color": "#ff0000", "opacity": 0.06}, "encoding": {"x": {"field": "start", "type": "quantitative", "scale": {"domain": [-5.2, 149.9], "nice": false, "zero": false}, "axis": null}, "x2": {"field": "stop"}}},
    {"data": {"name": "major"}, "mark": {"type": "rule", "color": "#b0b0b0", "strokeWidth": 1.5}, "encoding": {"x": {"field": "m", "type": "quantitative", "scale": {"domain": [-5.2, 149.9], "nice": false, "zero": false}, "axis": null}}},
    {"data": {"name": "minor"}, "mark": {"type": "rule", "color": "#b0b0b0", "strokeWidth": 1.5, "strokeDash": [9, 6]}, "encoding": {"x": {"field": "m", "type": "quantitative", "scale": {"domain": [-5.2, 149.9], "nice": false, "zero": false}, "axis": null}}},
    {"data": {"name": "obs"}, "transform": [{"fold": ["start", "stop"], "as": ["edge", "m"]}], "mark": {"type": "rule", "color": "black", "strokeWidth": 2}, "encoding": {"x": {"field": "m", "type": "quantitative", "scale": {"domain": [-5.2, 149.9], "nice": false, "zero": false}, "axis": null}}},
    {"data": {"name": "pitch"}, "mark": {"type": "line", "color": "black", "strokeWidth": 3}, "encoding": {"x": {"field": "m", "type": "quantitative", "scale": {"domain": [-5.2, 149.9], "nice": false, "zero": false}, "axis": null}, "y": {"field": "p", "type": "quantitative", "scale": {"domain": [45.1, 180], "nice": false, "zero": false}, "axis": {"title": "Pitch Angle", "values": [60, 80, 100, 120, 140, 160, 180]}}}},
    {"data": {"name": "obs"}, "transform": [{"filter": "!datum.cur"}], "mark": {"type": "text", "angle": 270, "align": "left", "baseline": "middle", "dx": 19, "fontSize": 27}, "encoding": {"x": {"field": "lab", "type": "quantitative", "scale": {"domain": [-5.2, 149.9], "nice": false, "zero": false}, "axis": null}, "y": {"datum": 180, "type": "quantitative", "scale": {"domain": [45.1, 180], "nice": false, "zero": false}, "axis": {"title": "Pitch Angle", "values": [60, 80, 100, 120, 140, 160, 180]}}, "text": {"field": "obsid"}}},
    {"data": {"name": "obs"}, "transform": [{"filter": "datum.cur"}], "mark": {"type": "text", "angle": 270, "align": "left", "baseline": "middle", "dx": 19, "fontSize": 27, "fontWeight": "bold"}, "encoding": {"x": {"field": "lab", "type": "quantitative", "scale": {"domain": [-5.2, 149.9], "nice": false, "zero": false}, "axis": null}, "y": {"datum": 180, "type": "quantitative", "scale": {"domain": [45.1, 180], "nice": false, "zero": false}, "axis": {"title": "Pitch Angle", "values": [60, 80, 100, 120, 140, 160, 180]}}, "text": {"field": "obsid"}}}
   ]},
   {"data": {"name": "roll"}, "mark": {"type": "line", "color": "#ff7f0e", "strokeWidth": 2.5}, "encoding": {"x": {"field": "m", "type": "quantitative", "scale": {"domain": [-5.2, 149.9], "nice": false, "zero": false}, "axis": null}, "y": {"field": "r", "type": "quantitative", "scale": {"domain": [-0.9205, -0.7918], "nice": false, "zero": false}, "axis": {"orient": "right", "title": "Off Nominal Roll Angle", "values": [-0.92, -0.9, -0.88, -0.86, -0.84, -0.82, -0.8], "format": ".2f", "labelColor": "#ff7f0e", "tickColor": "#ff7f0e", "titleColor": "#ff7f0e", "tickSize": 16, "labelPadding": 4, "titleAngle": 270, "titleBaseline": "top", "titlePadding": 12}}}}
  ],
  "resolve": {"scale": {"y": "independent"}}
 },
 {
  "width": 1660, "height": 662,
  "layer": [
   {"data": {"name": "obs"}, "transform": [{"filter": "datum.cur"}], "mark": {"type": "rect", "color": "#ff0000", "opacity": 0.06}, "encoding": {"x": {"field": "start", "type": "quantitative", "scale": {"domain": [-5.2, 149.9], "nice": false, "zero": false}, "axis": null}, "x2": {"field": "stop"}}},
   {"data": {"name": "major"}, "mark": {"type": "rule", "color": "#b0b0b0", "strokeWidth": 1.5}, "encoding": {"x": {"field": "m", "type": "quantitative", "scale": {"domain": [-5.2, 149.9], "nice": false, "zero": false}, "axis": null}}},
   {"data": {"name": "minor"}, "mark": {"type": "rule", "color": "#b0b0b0", "strokeWidth": 1.5, "strokeDash": [9, 6]}, "encoding": {"x": {"field": "m", "type": "quantitative", "scale": {"domain": [-5.2, 149.9], "nice": false, "zero": false}, "axis": null}}},
   {"data": {"name": "obs"}, "transform": [{"fold": ["start", "stop"], "as": ["edge", "m"]}], "mark": {"type": "rule", "color": "black", "strokeWidth": 2}, "encoding": {"x": {"field": "m", "type": "quantitative", "scale": {"domain": [-5.2, 149.9], "nice": false, "zero": false}, "axis": null}}},
   {"data": {"name": "temp"}, "mark": {"type": "line", "strokeWidth": 8}, "encoding": {"x": {"field": "m", "type": "quantitative", "scale": {"domain": [-5.2, 149.9], "nice": false, "zero": false}, "axis": null}, "y": {"field": "v", "type": "quantitative", "scale": {"domain": [21.42, 33.66], "nice": false, "zero": false}, "axis": {"title": "Temperature", "values": [22, 24, 26, 28, 30, 32]}}, "color": {"field": "s", "type": "nominal", "scale": {"domain": ["2CHTRPZT", "2CEAHVPT", "2DTSTATT", "2DCENTRT"], "range": ["#1f77b4", "#ff7f0e", "#2ca02c", "#d62728"]}, "legend": {"title": null, "orient": "none", "legendX": 13, "legendY": 14.5, "columns": 2, "columnPadding": 46, "symbolType": "M-2,0H2", "symbolSize": 975, "symbolStrokeWidth": 8, "symbolOffset": 11.6, "labelOffset": 29.2, "rowPadding": 3.1}}}},
   {"data": {"name": "fit"}, "mark": {"type": "line", "color": "#4d4d4d", "strokeWidth": 5}, "encoding": {"x": {"field": "m", "type": "quantitative", "scale": {"domain": [-5.2, 149.9], "nice": false, "zero": false}, "axis": null}, "y": {"field": "v", "type": "quantitative", "scale": {"domain": [21.42, 33.66], "nice": false, "zero": false}, "axis": {"title": "Temperature", "values": [22, 24, 26, 28, 30, 32]}}}},
   {"data": {"name": "fitbox"}, "mark": {"type": "rect", "fill": "white", "stroke": "black", "strokeWidth": 3}, "encoding": {"x": {"field": "m", "type": "quantitative", "scale": {"domain": [-5.2, 149.9], "nice": false, "zero": false}, "axis": null}, "x2": {"field": "m2"}, "y": {"field": "v", "type": "quantitative", "scale": {"domain": [21.42, 33.66], "nice": false, "zero": false}, "axis": {"title": "Temperature", "values": [22, 24, 26, 28, 30, 32]}}, "y2": {"field": "v2"}}},
   {"data": {"name": "fittext"}, "mark": {"type": "text", "align": "left", "baseline": "middle", "fontSize": 26}, "encoding": {"x": {"field": "m", "type": "quantitative", "scale": {"domain": [-5.2, 149.9], "nice": false, "zero": false}, "axis": null}, "y": {"field": "v", "type": "quantitative", "scale": {"domain": [21.42, 33.66], "nice": false, "zero": false}, "axis": {"title": "Temperature", "values": [22, 24, 26, 28, 30, 32]}}, "text": {"field": "t"}}}
  ]
 },
 {
  "width": 1660, "height": 662,
  "layer": [
   {"data": {"name": "obs"}, "transform": [{"filter": "datum.cur"}], "mark": {"type": "rect", "color": "#ff0000", "opacity": 0.06}, "encoding": {"x": {"field": "start", "type": "quantitative", "scale": {"domain": [-5.2, 149.9], "nice": false, "zero": false}, "axis": {"values": [0, 60, 120], "labels": false, "tickSize": 28, "tickWidth": 3, "title": null}}, "x2": {"field": "stop"}}},
   {"data": {"name": "major"}, "mark": {"type": "rule", "color": "#b0b0b0", "strokeWidth": 1.5}, "encoding": {"x": {"field": "m", "type": "quantitative", "scale": {"domain": [-5.2, 149.9], "nice": false, "zero": false}, "axis": {"values": [0, 60, 120], "labels": false, "tickSize": 28, "tickWidth": 3, "title": null}}}},
   {"data": {"name": "minor"}, "mark": {"type": "rule", "color": "#b0b0b0", "strokeWidth": 1.5, "strokeDash": [9, 6]}, "encoding": {"x": {"field": "m", "type": "quantitative", "scale": {"domain": [-5.2, 149.9], "nice": false, "zero": false}, "axis": {"values": [0, 60, 120], "labels": false, "tickSize": 28, "tickWidth": 3, "title": null}}}},
   {"data": {"name": "obs"}, "transform": [{"fold": ["start", "stop"], "as": ["edge", "m"]}], "mark": {"type": "rule", "color": "black", "strokeWidth": 2}, "encoding": {"x": {"field": "m", "type": "quantitative", "scale": {"domain": [-5.2, 149.9], "nice": false, "zero": false}, "axis": {"values": [0, 60, 120], "labels": false, "tickSize": 28, "tickWidth": 3, "title": null}}}},
   {"data": {"name": "rate"}, "transform": [{"fold": ["T", "V", "S"], "as": ["s", "v"]}], "mark": {"type": "line", "strokeWidth": 2, "clip": true}, "encoding": {"x": {"field": "m", "type": "quantitative", "scale": {"domain": [-5.2, 149.9], "nice": false, "zero": false}, "axis": {"values": [0, 60, 120], "labels": false, "tickSize": 28, "tickWidth": 3, "title": null}}, "y": {"field": "v", "type": "quantitative", "scale": {"type": "log", "domain": [10, 61500], "nice": false}, "axis": {"title": "Rate", "values": [10, 20, 30, 40, 50, 60, 70, 80, 90, 100, 200, 300, 400, 500, 600, 700, 800, 900, 1000, 2000, 3000, 4000, 5000, 6000, 7000, 8000, 9000, 10000, 20000, 30000, 40000, 50000, 60000], "labelExpr": "datum.value === 10 ? '10¹' : datum.value === 100 ? '10²' : datum.value === 1000 ? '10³' : datum.value === 10000 ? '10⁴' : ''", "tickSize": {"condition": {"test": "indexof([10, 100, 1000, 10000], datum.value) >= 0", "value": 27}, "value": 7}, "tickWidth": {"condition": {"test": "indexof([10, 100, 1000, 10000], datum.value) >= 0", "value": 2.5}, "value": 1.5}}}, "color": {"field": "s", "type": "nominal", "scale": {"domain": ["T", "V", "S"], "range": ["#1f77b4", "#ff7f0e", "#2ca02c"]}, "legend": {"title": null, "orient": "none", "legendX": 13, "legendY": 13.8, "labelExpr": "{'T': '2TLEV1RT', 'V': '2VLEV1RT', 'S': '2SHEV1RT'}[datum.label]", "symbolType": "M-2,0H2", "symbolSize": 975, "symbolStrokeWidth": 3.5, "symbolOffset": 13.85, "labelOffset": 33.7, "rowPadding": 8.8}}}}
  ]
 },
 {
  "width": 1660, "height": 662,
  "layer": [
   {"data": {"name": "obs"}, "transform": [{"filter": "datum.cur"}], "mark": {"type": "rect", "color": "#ff0000", "opacity": 0.06}, "encoding": {"x": {"field": "start", "type": "quantitative", "scale": {"domain": [-5.2, 149.9], "nice": false, "zero": false}, "axis": {"values": [0, 60, 120], "labels": false, "tickSize": 28, "tickWidth": 3, "title": null}}, "x2": {"field": "stop"}}},
   {"data": {"name": "major"}, "mark": {"type": "rule", "color": "#b0b0b0", "strokeWidth": 1.5}, "encoding": {"x": {"field": "m", "type": "quantitative", "scale": {"domain": [-5.2, 149.9], "nice": false, "zero": false}, "axis": {"values": [0, 60, 120], "labels": false, "tickSize": 28, "tickWidth": 3, "title": null}}}},
   {"data": {"name": "minor"}, "mark": {"type": "rule", "color": "#b0b0b0", "strokeWidth": 1.5, "strokeDash": [9, 6]}, "encoding": {"x": {"field": "m", "type": "quantitative", "scale": {"domain": [-5.2, 149.9], "nice": false, "zero": false}, "axis": {"values": [0, 60, 120], "labels": false, "tickSize": 28, "tickWidth": 3, "title": null}}}},
   {"data": {"name": "obs"}, "transform": [{"fold": ["start", "stop"], "as": ["edge", "m"]}], "mark": {"type": "rule", "color": "black", "strokeWidth": 2}, "encoding": {"x": {"field": "m", "type": "quantitative", "scale": {"domain": [-5.2, 149.9], "nice": false, "zero": false}, "axis": {"values": [0, 60, 120], "labels": false, "tickSize": 28, "tickWidth": 3, "title": null}}}},
   {"data": {"name": "volt"}, "mark": {"type": "line", "strokeWidth": 8}, "encoding": {"x": {"field": "m", "type": "quantitative", "scale": {"domain": [-5.2, 149.9], "nice": false, "zero": false}, "axis": {"values": [0, 60, 120], "labels": false, "tickSize": 28, "tickWidth": 3, "title": null}}, "y": {"field": "v", "type": "quantitative", "scale": {"domain": [-20, 20], "nice": false, "zero": false}, "axis": {"title": "Volt", "values": [-20, -15, -10, -5, 0, 5, 10, 15, 20]}}, "color": {"field": "s", "type": "nominal", "scale": {"domain": ["2P15VBVL", "2N15VBVL", "2P05VBVL"], "range": ["#1f77b4", "#ff7f0e", "#2ca02c"]}, "legend": {"title": null, "orient": "none", "legendX": 13, "legendY": 264, "symbolType": "M-2,0H2", "symbolSize": 975, "symbolStrokeWidth": 8, "symbolOffset": 11.6, "labelOffset": 29.2, "rowPadding": 3.1}}}}
  ]
 },
 {
  "width": 1660, "height": 662,
  "layer": [
   {"data": {"name": "obs"}, "transform": [{"filter": "datum.cur"}], "mark": {"type": "rect", "color": "#ff0000", "opacity": 0.06}, "encoding": {"x": {"field": "start", "type": "quantitative", "scale": {"domain": [-5.2, 149.9], "nice": false, "zero": false}, "axis": {"values": [0, 60, 120], "labels": false, "tickSize": 28, "tickWidth": 3, "title": null}}, "x2": {"field": "stop"}}},
   {"data": {"name": "major"}, "mark": {"type": "rule", "color": "#b0b0b0", "strokeWidth": 1.5}, "encoding": {"x": {"field": "m", "type": "quantitative", "scale": {"domain": [-5.2, 149.9], "nice": false, "zero": false}, "axis": {"values": [0, 60, 120], "labels": false, "tickSize": 28, "tickWidth": 3, "title": null}}}},
   {"data": {"name": "minor"}, "mark": {"type": "rule", "color": "#b0b0b0", "strokeWidth": 1.5, "strokeDash": [9, 6]}, "encoding": {"x": {"field": "m", "type": "quantitative", "scale": {"domain": [-5.2, 149.9], "nice": false, "zero": false}, "axis": {"values": [0, 60, 120], "labels": false, "tickSize": 28, "tickWidth": 3, "title": null}}}},
   {"data": {"name": "obs"}, "transform": [{"fold": ["start", "stop"], "as": ["edge", "m"]}], "mark": {"type": "rule", "color": "black", "strokeWidth": 2}, "encoding": {"x": {"field": "m", "type": "quantitative", "scale": {"domain": [-5.2, 149.9], "nice": false, "zero": false}, "axis": {"values": [0, 60, 120], "labels": false, "tickSize": 28, "tickWidth": 3, "title": null}}}},
   {"data": {"name": "hv"}, "transform": [{"fold": ["g", "r"], "as": ["s", "v"]}, {"filter": "isValid(datum.v)"}], "mark": {"type": "circle", "size": 115, "opacity": 1}, "encoding": {"x": {"field": "m", "type": "quantitative", "scale": {"domain": [-5.2, 149.9], "nice": false, "zero": false}, "axis": {"values": [0, 60, 120], "labels": false, "tickSize": 28, "tickWidth": 3, "title": null}}, "y": {"field": "v", "type": "quantitative", "scale": {"domain": [0, 266.3], "nice": false, "zero": false}, "axis": {"title": "HV Monitor", "values": [0, 50, 100, 150, 200, 250]}}, "color": {"field": "s", "type": "nominal", "scale": {"domain": ["b", "o", "g", "r"], "range": ["#1f77b4", "#ff7f0e", "#2ca02c", "#d62728"]}, "legend": {"title": null, "orient": "none", "legendX": 13, "legendY": 14.3, "labelExpr": "{'b': '2SPHBLV', 'o': '2SPHVLV', 'g': '2IMHVLV', 'r': '2IMHBLV'}[datum.label]", "symbolType": "circle", "symbolSize": 80, "symbolStrokeWidth": 0, "symbolOffset": 18.5, "labelOffset": 29, "rowPadding": 13.3}}}}
  ]
 },
 {
  "width": 1660, "height": 662,
  "layer": [
   {"data": {"name": "obs"}, "transform": [{"filter": "datum.cur"}], "mark": {"type": "rect", "color": "#ff0000", "opacity": 0.06}, "encoding": {"x": {"field": "start", "type": "quantitative", "scale": {"domain": [-5.2, 149.9], "nice": false, "zero": false}, "axis": {"values": [0, 60, 120], "labels": false, "tickSize": 28, "tickWidth": 3, "title": null}}, "x2": {"field": "stop"}}},
   {"data": {"name": "major"}, "mark": {"type": "rule", "color": "#b0b0b0", "strokeWidth": 1.5}, "encoding": {"x": {"field": "m", "type": "quantitative", "scale": {"domain": [-5.2, 149.9], "nice": false, "zero": false}, "axis": {"values": [0, 60, 120], "labels": false, "tickSize": 28, "tickWidth": 3, "title": null}}}},
   {"data": {"name": "minor"}, "mark": {"type": "rule", "color": "#b0b0b0", "strokeWidth": 1.5, "strokeDash": [9, 6]}, "encoding": {"x": {"field": "m", "type": "quantitative", "scale": {"domain": [-5.2, 149.9], "nice": false, "zero": false}, "axis": {"values": [0, 60, 120], "labels": false, "tickSize": 28, "tickWidth": 3, "title": null}}}},
   {"data": {"name": "obs"}, "transform": [{"fold": ["start", "stop"], "as": ["edge", "m"]}], "mark": {"type": "rule", "color": "black", "strokeWidth": 2}, "encoding": {"x": {"field": "m", "type": "quantitative", "scale": {"domain": [-5.2, 149.9], "nice": false, "zero": false}, "axis": {"values": [0, 60, 120], "labels": false, "tickSize": 28, "tickWidth": 3, "title": null}}}},
   {"data": {"name": "det"}, "mark": {"type": "line", "strokeWidth": 8, "clip": true}, "encoding": {"x": {"field": "m", "type": "quantitative", "scale": {"domain": [-5.2, 149.9], "nice": false, "zero": false}, "axis": {"values": [0, 60, 120], "labels": false, "tickSize": 28, "tickWidth": 3, "title": null}}, "y": {"field": "v", "type": "quantitative", "scale": {"domain": [20.92, 37.17], "nice": false, "zero": false}, "axis": {"title": "Detector Temp", "values": [22, 24, 26, 28, 30, 32, 34, 36]}}, "color": {"field": "s", "type": "nominal", "scale": {"domain": ["2SPINATM", "2SPHVATM", "2IMINATM", "2IMHVATM"], "range": ["#1f77b4", "#ff7f0e", "#2ca02c", "#d62728"]}, "legend": {"title": null, "orient": "none", "legendX": 13, "legendY": 243.3, "symbolType": "M-2,0H2", "symbolSize": 975, "symbolStrokeWidth": 8, "symbolOffset": 11.6, "labelOffset": 29.2, "rowPadding": 3.1}}}}
  ]
 },
 {
  "width": 1660, "height": 662,
  "layer": [
   {"data": {"name": "obs"}, "transform": [{"filter": "datum.cur"}], "mark": {"type": "rect", "color": "#ff0000", "opacity": 0.06}, "encoding": {"x": {"field": "start", "type": "quantitative", "scale": {"domain": [-5.2, 149.9], "nice": false, "zero": false}, "axis": {"values": [0, 15, 30, 45, 60, 75, 90, 105, 120, 135], "title": "2021-04-04 (094)", "titleFontSize": 32, "titlePadding": 8, "labelExpr": "datum.value % 60 === 0 ? (datum.value === 0 ? '09h' : datum.value === 60 ? '10h' : '11h') : '' + (datum.value % 60)", "tickSize": {"condition": {"test": "datum.value % 60 === 0", "value": 28}, "value": -6}, "tickWidth": {"condition": {"test": "datum.value % 60 === 0", "value": 3}, "value": 2}, "labelFontSize": {"condition": {"test": "datum.value % 60 === 0", "value": 26}, "value": 18}, "labelPadding": {"condition": {"test": "datum.value % 60 === 0", "value": 8}, "value": 11}}}, "x2": {"field": "stop"}}},
   {"data": {"name": "major"}, "mark": {"type": "rule", "color": "#b0b0b0", "strokeWidth": 1.5}, "encoding": {"x": {"field": "m", "type": "quantitative", "scale": {"domain": [-5.2, 149.9], "nice": false, "zero": false}, "axis": {"values": [0, 15, 30, 45, 60, 75, 90, 105, 120, 135], "title": "2021-04-04 (094)", "titleFontSize": 32, "titlePadding": 8, "labelExpr": "datum.value % 60 === 0 ? (datum.value === 0 ? '09h' : datum.value === 60 ? '10h' : '11h') : '' + (datum.value % 60)", "tickSize": {"condition": {"test": "datum.value % 60 === 0", "value": 28}, "value": -6}, "tickWidth": {"condition": {"test": "datum.value % 60 === 0", "value": 3}, "value": 2}, "labelFontSize": {"condition": {"test": "datum.value % 60 === 0", "value": 26}, "value": 18}, "labelPadding": {"condition": {"test": "datum.value % 60 === 0", "value": 8}, "value": 11}}}}},
   {"data": {"name": "minor"}, "mark": {"type": "rule", "color": "#b0b0b0", "strokeWidth": 1.5, "strokeDash": [9, 6]}, "encoding": {"x": {"field": "m", "type": "quantitative", "scale": {"domain": [-5.2, 149.9], "nice": false, "zero": false}, "axis": {"values": [0, 15, 30, 45, 60, 75, 90, 105, 120, 135], "title": "2021-04-04 (094)", "titleFontSize": 32, "titlePadding": 8, "labelExpr": "datum.value % 60 === 0 ? (datum.value === 0 ? '09h' : datum.value === 60 ? '10h' : '11h') : '' + (datum.value % 60)", "tickSize": {"condition": {"test": "datum.value % 60 === 0", "value": 28}, "value": -6}, "tickWidth": {"condition": {"test": "datum.value % 60 === 0", "value": 3}, "value": 2}, "labelFontSize": {"condition": {"test": "datum.value % 60 === 0", "value": 26}, "value": 18}, "labelPadding": {"condition": {"test": "datum.value % 60 === 0", "value": 8}, "value": 11}}}}},
   {"data": {"name": "obs"}, "transform": [{"fold": ["start", "stop"], "as": ["edge", "m"]}], "mark": {"type": "rule", "color": "black", "strokeWidth": 2}, "encoding": {"x": {"field": "m", "type": "quantitative", "scale": {"domain": [-5.2, 149.9], "nice": false, "zero": false}, "axis": {"values": [0, 15, 30, 45, 60, 75, 90, 105, 120, 135], "title": "2021-04-04 (094)", "titleFontSize": 32, "titlePadding": 8, "labelExpr": "datum.value % 60 === 0 ? (datum.value === 0 ? '09h' : datum.value === 60 ? '10h' : '11h') : '' + (datum.value % 60)", "tickSize": {"condition": {"test": "datum.value % 60 === 0", "value": 28}, "value": -6}, "tickWidth": {"condition": {"test": "datum.value % 60 === 0", "value": 3}, "value": 2}, "labelFontSize": {"condition": {"test": "datum.value % 60 === 0", "value": 26}, "value": 18}, "labelPadding": {"condition": {"test": "datum.value % 60 === 0", "value": 8}, "value": 11}}}}},
   {"data": {"name": "fea"}, "mark": {"type": "line", "strokeWidth": 8, "clip": true}, "encoding": {"x": {"field": "m", "type": "quantitative", "scale": {"domain": [-5.2, 149.9], "nice": false, "zero": false}, "axis": {"values": [0, 15, 30, 45, 60, 75, 90, 105, 120, 135], "title": "2021-04-04 (094)", "titleFontSize": 32, "titlePadding": 8, "labelExpr": "datum.value % 60 === 0 ? (datum.value === 0 ? '09h' : datum.value === 60 ? '10h' : '11h') : '' + (datum.value % 60)", "tickSize": {"condition": {"test": "datum.value % 60 === 0", "value": 28}, "value": -6}, "tickWidth": {"condition": {"test": "datum.value % 60 === 0", "value": 3}, "value": 2}, "labelFontSize": {"condition": {"test": "datum.value % 60 === 0", "value": 26}, "value": 18}, "labelPadding": {"condition": {"test": "datum.value % 60 === 0", "value": 8}, "value": 11}}}, "y": {"field": "v", "type": "quantitative", "scale": {"domain": [17.66, 28.46], "nice": false, "zero": false}, "axis": {"title": "FEA Temp", "values": [18, 20, 22, 24, 26, 28]}}, "color": {"field": "s", "type": "nominal", "scale": {"domain": ["2FHTRMZT", "2FRADPYT", "2FEPRATM", "2FE00ATM"], "range": ["#1f77b4", "#ff7f0e", "#2ca02c", "#d62728"]}, "legend": {"title": null, "orient": "none", "legendX": 13, "legendY": 242.8, "symbolType": "M-2,0H2", "symbolSize": 975, "symbolStrokeWidth": 8, "symbolOffset": 11.6, "labelOffset": 29.2, "rowPadding": 3.1}}}}
  ]
 }
],
"resolve": {"scale": {"color": "independent", "x": "independent", "y": "independent"}, "legend": {"color": "independent"}},
"config": {
 "font": "DejaVu Sans",
 "view": {"stroke": "black", "strokeWidth": 2},
 "axis": {"grid": false, "domain": false, "labelFont": "DejaVu Sans", "titleFont": "DejaVu Sans", "labelFontSize": 26, "titleFontSize": 26, "titleFontWeight": "normal", "labelColor": "black", "titleColor": "black", "tickColor": "black", "tickWidth": 2.5, "tickSize": 27, "labelPadding": 12, "titlePadding": 15, "labelFlush": false, "labelOverlap": false},
 "legend": {"labelFont": "DejaVu Sans", "labelFontSize": 26, "labelColor": "black", "strokeColor": "#cccccc", "strokeWidth": 2, "fillColor": "rgba(255,255,255,0.8)", "cornerRadius": 8, "padding": 8}
}
}
